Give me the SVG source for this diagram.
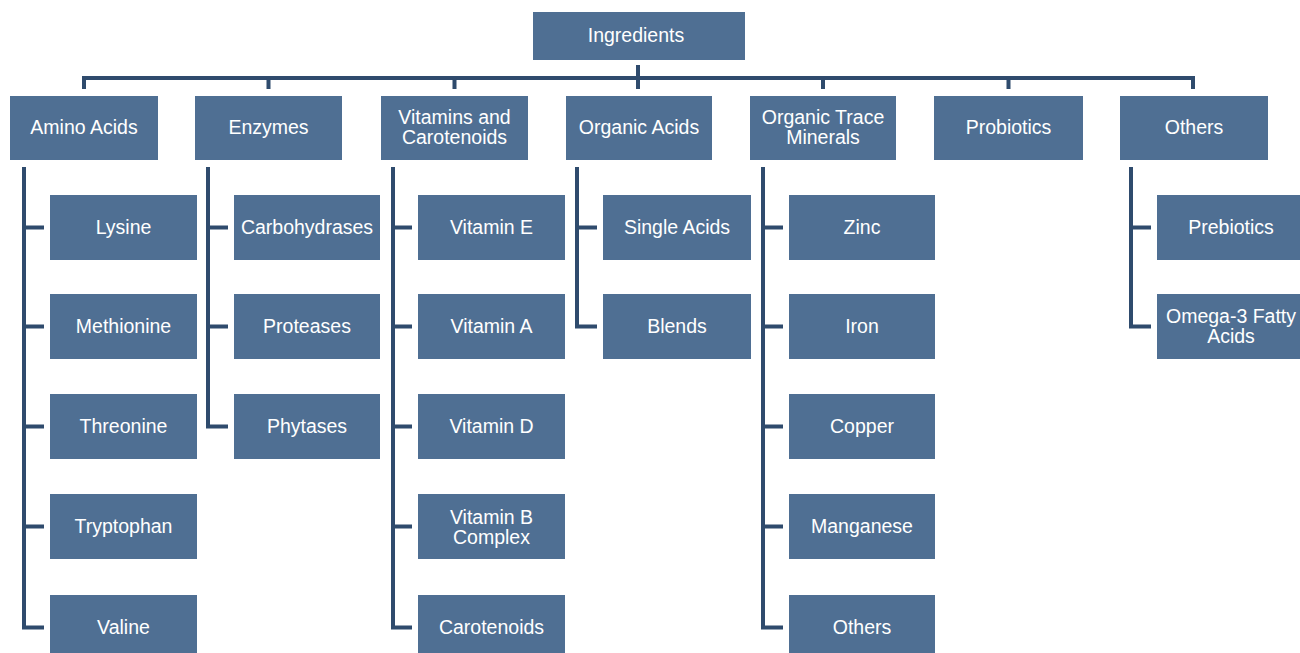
<svg xmlns="http://www.w3.org/2000/svg" width="1300" height="653" viewBox="0 0 1300 653">
<style>
.box{fill:#4f6f93;}
.t{fill:#ffffff;font-family:"Liberation Sans",Arial,sans-serif;font-size:19.5px;text-anchor:middle;}
.c{fill:none;stroke:#2f4b6d;stroke-width:4;stroke-linejoin:miter;stroke-linecap:butt;}
</style>
<rect width="1300" height="653" fill="#ffffff"/>
<g id="connectors">
<path class="c" d="M84,89 V78 H1193 V89"/>
<path class="c" d="M638,65 V89"/>
<path class="c" d="M268.5,78 V89 M454.5,78 V89 M823,78 V89 M1008.5,78 V89"/>
<path class="c" d="M24,167 V627.5 H44 M24,227.5 H44 M24,326.5 H44 M24,426.5 H44 M24,526.5 H44"/>
<path class="c" d="M208,167 V426.5 H228 M208,227.5 H228 M208,326.5 H228"/>
<path class="c" d="M393,167 V627.5 H412 M393,227.5 H412 M393,326.5 H412 M393,426.5 H412 M393,526.5 H412"/>
<path class="c" d="M577,167 V326.5 H597 M577,227.5 H597"/>
<path class="c" d="M763,167 V627.5 H783 M763,227.5 H783 M763,326.5 H783 M763,426.5 H783 M763,526.5 H783"/>
<path class="c" d="M1131,167 V326.5 H1151 M1131,227.5 H1151"/>
</g>
<g id="ingredients"><rect class="box" x="533" y="12" width="212" height="48"/><text class="t" x="636" y="42">Ingredients</text></g>
<g id="amino-acids"><rect class="box" x="10" y="96" width="148" height="64"/><text class="t" x="84" y="134">Amino Acids</text></g>
<g id="enzymes"><rect class="box" x="195" y="96" width="147" height="64"/><text class="t" x="268.5" y="134">Enzymes</text></g>
<g id="vitamins"><rect class="box" x="381" y="96" width="147" height="64"/><text class="t" x="454.5" y="124">Vitamins and</text><text class="t" x="454.5" y="144">Carotenoids</text></g>
<g id="organic-acids"><rect class="box" x="566" y="96" width="146" height="64"/><text class="t" x="639" y="134">Organic Acids</text></g>
<g id="trace-minerals"><rect class="box" x="750" y="96" width="146" height="64"/><text class="t" x="823" y="124">Organic Trace</text><text class="t" x="823" y="144">Minerals</text></g>
<g id="probiotics"><rect class="box" x="934" y="96" width="149" height="64"/><text class="t" x="1008.5" y="134">Probiotics</text></g>
<g id="others"><rect class="box" x="1120" y="96" width="148" height="64"/><text class="t" x="1194" y="134">Others</text></g>

<g id="lysine"><rect class="box" x="50" y="195" width="147" height="65"/><text class="t" x="123.5" y="234">Lysine</text></g>
<g id="methionine"><rect class="box" x="50" y="294" width="147" height="65"/><text class="t" x="123.5" y="333">Methionine</text></g>
<g id="threonine"><rect class="box" x="50" y="394" width="147" height="65"/><text class="t" x="123.5" y="433">Threonine</text></g>
<g id="tryptophan"><rect class="box" x="50" y="494" width="147" height="65"/><text class="t" x="123.5" y="533">Tryptophan</text></g>
<g id="valine"><rect class="box" x="50" y="595" width="147" height="65"/><text class="t" x="123.5" y="634">Valine</text></g>

<g id="carbohydrases"><rect class="box" x="234" y="195" width="146" height="65"/><text class="t" x="307" y="234">Carbohydrases</text></g>
<g id="proteases"><rect class="box" x="234" y="294" width="146" height="65"/><text class="t" x="307" y="333">Proteases</text></g>
<g id="phytases"><rect class="box" x="234" y="394" width="146" height="65"/><text class="t" x="307" y="433">Phytases</text></g>

<g id="vitamin-e"><rect class="box" x="418" y="195" width="147" height="65"/><text class="t" x="491.5" y="234">Vitamin E</text></g>
<g id="vitamin-a"><rect class="box" x="418" y="294" width="147" height="65"/><text class="t" x="491.5" y="333">Vitamin A</text></g>
<g id="vitamin-d"><rect class="box" x="418" y="394" width="147" height="65"/><text class="t" x="491.5" y="433">Vitamin D</text></g>
<g id="vitamin-b"><rect class="box" x="418" y="494" width="147" height="65"/><text class="t" x="491.5" y="524">Vitamin B</text><text class="t" x="491.5" y="544">Complex</text></g>
<g id="carotenoids"><rect class="box" x="418" y="595" width="147" height="65"/><text class="t" x="491.5" y="634">Carotenoids</text></g>

<g id="single-acids"><rect class="box" x="603" y="195" width="148" height="65"/><text class="t" x="677" y="234">Single Acids</text></g>
<g id="blends"><rect class="box" x="603" y="294" width="148" height="65"/><text class="t" x="677" y="333">Blends</text></g>

<g id="zinc"><rect class="box" x="789" y="195" width="146" height="65"/><text class="t" x="862" y="234">Zinc</text></g>
<g id="iron"><rect class="box" x="789" y="294" width="146" height="65"/><text class="t" x="862" y="333">Iron</text></g>
<g id="copper"><rect class="box" x="789" y="394" width="146" height="65"/><text class="t" x="862" y="433">Copper</text></g>
<g id="manganese"><rect class="box" x="789" y="494" width="146" height="65"/><text class="t" x="862" y="533">Manganese</text></g>
<g id="minerals-others"><rect class="box" x="789" y="595" width="146" height="65"/><text class="t" x="862" y="634">Others</text></g>

<g id="prebiotics"><rect class="box" x="1157" y="195" width="148" height="65"/><text class="t" x="1231" y="234">Prebiotics</text></g>
<g id="omega3"><rect class="box" x="1157" y="294" width="148" height="65"/><text class="t" x="1231" y="323">Omega-3 Fatty</text><text class="t" x="1231" y="343">Acids</text></g>
</svg>
